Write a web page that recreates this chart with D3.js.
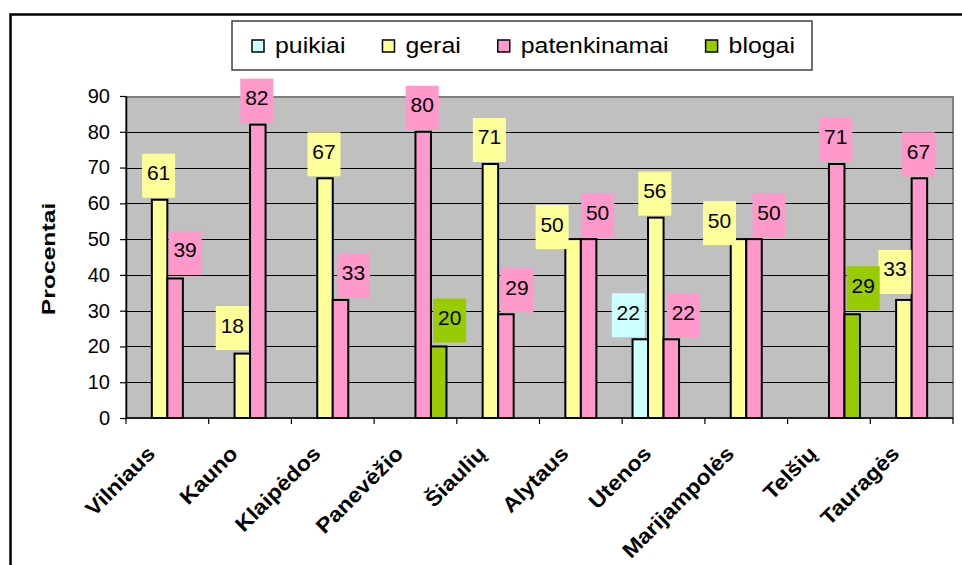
<!DOCTYPE html>
<html>
<head>
<meta charset="utf-8">
<script src="https://cdn.jsdelivr.net/npm/d3@7"></script>
<style>
  body { margin: 0; background: #fff; }
  svg { display: block; font-family: "Liberation Sans", Arial, sans-serif; }
</style>
</head>
<body>
<div id="chart"></div>
<script>
const categories = ["Vilniaus", "Kauno", "Klaipėdos", "Panevėžio", "Šiaulių",
    "Alytaus", "Utenos", "Marijampolės", "Telšių", "Tauragės"];
const seriesNames = ["puikiai", "gerai", "patenkinamai", "blogai"];

const puikiai = [null, null, null, null, null, null, 22, null, null, null];
const gerai = [61, 18, 67, null, 71, 50, 56, 50, null, 33];
const patenkinamai = [39, 82, 33, 80, 29, 50, 22, 50, 71, 67];
const blogai = [null, null, null, 20, null, null, null, null, 29, null];

const yTicks = [0, 10, 20, 30, 40, 50, 60, 70, 80, 90];
const yTitle = "Procentai";

const seriesColors = ["#CCFFFF", "#FFFF99", "#FF99CC", "#99CC00"];

// label boxes were dragged by hand in the original, so keep the nudges (px)
const labelNudge = {
    puikiai:      { Utenos: [-12, -2] },
    gerai:        { Kauno: [-10, -3.5], Alytaus: [-21, 10], Marijampolės: [-19, 6], Tauragės: [-9, -6] },
    patenkinamai: { Vilniaus: [10, -3.5], Klaipėdos: [13, -2], Šiaulių: [11, -2], Alytaus: [9, -2],
                    Utenos: [12, -2], Marijampolės: [15, -2] },
    blogai:       { Panevėžio: [11, -4], Telšių: [11, -4] }
};

const values = { puikiai, gerai, patenkinamai, blogai };

const W = 962, H = 565;
const plot = { left: 126, right: 953, top: 96, bottom: 418 };

const svg = d3.select("#chart").append("svg")
    .attr("width", W)
    .attr("height", H);

// outer chart frame (runs off the page on the right and bottom)
svg.append("rect")
    .attr("x", 10.5).attr("y", 14.5)
    .attr("width", 1000).attr("height", 700)
    .attr("fill", "#fff")
    .attr("stroke", "#000")
    .attr("stroke-width", 2.5);

const x = d3.scaleBand()
    .domain(categories)
    .range([plot.left, plot.right]);

const bw = x.bandwidth();
const x1 = d3.scaleBand()
    .domain(seriesNames)
    .range([bw / 8, bw * 7 / 8]);

const y = d3.scaleLinear()
    .domain([0, 90])
    .range([plot.bottom, plot.top]);

const color = d3.scaleOrdinal(seriesNames, seriesColors);

// plot area
svg.append("rect")
    .attr("x", plot.left).attr("y", plot.top + 1)
    .attr("width", plot.right - plot.left)
    .attr("height", plot.bottom - plot.top - 1)
    .attr("fill", "#C0C0C0")
    .attr("stroke", "#808080")
    .attr("stroke-width", 2);

svg.append("g")
    .selectAll("line")
    .data(yTicks.filter(t => t > 0 && t < 90))
    .join("line")
    .attr("x1", plot.left).attr("x2", plot.right)
    .attr("y1", d => Math.round(y(d)) + 0.5)
    .attr("y2", d => Math.round(y(d)) + 0.5)
    .attr("stroke", "#000")
    .attr("stroke-width", 1);

// bars
const rows = [];
seriesNames.forEach(s => {
    values[s].forEach((v, i) => {
        if (v != null) rows.push({ series: s, cat: categories[i], value: v });
    });
});

svg.append("g")
    .selectAll("rect")
    .data(rows)
    .join("rect")
    .attr("x", d => x(d.cat) + x1(d.series))
    .attr("y", d => y(d.value))
    .attr("width", x1.bandwidth())
    .attr("height", d => y(0) - y(d.value))
    .attr("fill", d => color(d.series))
    .attr("stroke", "#000")
    .attr("stroke-width", 2);

// y axis
const yAxis = d3.axisLeft(y)
    .tickValues(yTicks)
    .tickSize(6)
    .tickSizeOuter(0)
    .tickPadding(10);

const gy = svg.append("g")
    .attr("transform", `translate(${plot.left},0)`)
    .call(yAxis);
gy.select(".domain").attr("stroke", "#000").attr("stroke-width", 1.5);
gy.selectAll(".tick line").attr("stroke", "#000").attr("stroke-width", 1.2);
gy.selectAll(".tick text")
    .attr("font-size", 20)
    .attr("font-family", "Liberation Sans, Arial, sans-serif")
    .attr("fill", "#000");

// x axis line + ticks between categories
svg.append("line")
    .attr("x1", plot.left).attr("x2", plot.right)
    .attr("y1", plot.bottom).attr("y2", plot.bottom)
    .attr("stroke", "#000").attr("stroke-width", 1.5);

svg.append("g")
    .selectAll("line")
    .data(categories.map(c => x(c)).concat([x.range()[1]]))
    .join("line")
    .attr("x1", d => d).attr("x2", d => d)
    .attr("y1", plot.bottom).attr("y2", plot.bottom + 6)
    .attr("stroke", "#000").attr("stroke-width", 1.2);

svg.append("g")
    .selectAll("text")
    .data(categories)
    .join("text")
    .attr("transform", d => `translate(${x(d) + bw / 2 - 11},${455}) rotate(-45) scale(1.1,1)`)
    .attr("text-anchor", "end")
    .attr("font-size", 21)
    .attr("font-weight", "bold")
    .text(d => d);

// y title
svg.append("text")
    .attr("transform", "translate(55,259) rotate(-90) scale(1.3,1)")
    .attr("text-anchor", "middle")
    .attr("font-size", 19)
    .attr("font-weight", "bold")
    .text(yTitle);

// data labels
const labels = svg.append("g")
    .selectAll("g")
    .data(rows)
    .join("g")
    .attr("transform", d => {
        const n = (labelNudge[d.series] || {})[d.cat] || [-1, -2];
        const cx = x(d.cat) + x1(d.series) + x1.bandwidth() / 2 + n[0];
        const bottom = y(d.value) + n[1];
        return `translate(${cx},${bottom - 44})`;
    });

labels.append("rect")
    .attr("x", -16.5).attr("y", 0)
    .attr("width", 33).attr("height", 44)
    .attr("fill", d => color(d.series));

labels.append("text")
    .attr("x", 0).attr("y", 26.5)
    .attr("text-anchor", "middle")
    .attr("font-size", 21)
    .text(d => d.value);

// legend
const legend = svg.append("g");
legend.append("rect")
    .attr("x", 232).attr("y", 21)
    .attr("width", 580).attr("height", 49)
    .attr("fill", "#fff")
    .attr("stroke", "#404040")
    .attr("stroke-width", 1.5);

let lx = 252;
seriesNames.forEach(s => {
    legend.append("rect")
        .attr("x", lx).attr("y", 40)
        .attr("width", 12).attr("height", 12)
        .attr("fill", color(s))
        .attr("stroke", "#000")
        .attr("stroke-width", 1.5);
    const t = legend.append("text")
        .attr("transform", `translate(${lx + 23},52.5) scale(1.13,1)`)
        .attr("font-size", 22)
        .text(s);
    lx += 23 + t.node().getComputedTextLength() * 1.13 + 37;
});
</script>
</body>
</html>
